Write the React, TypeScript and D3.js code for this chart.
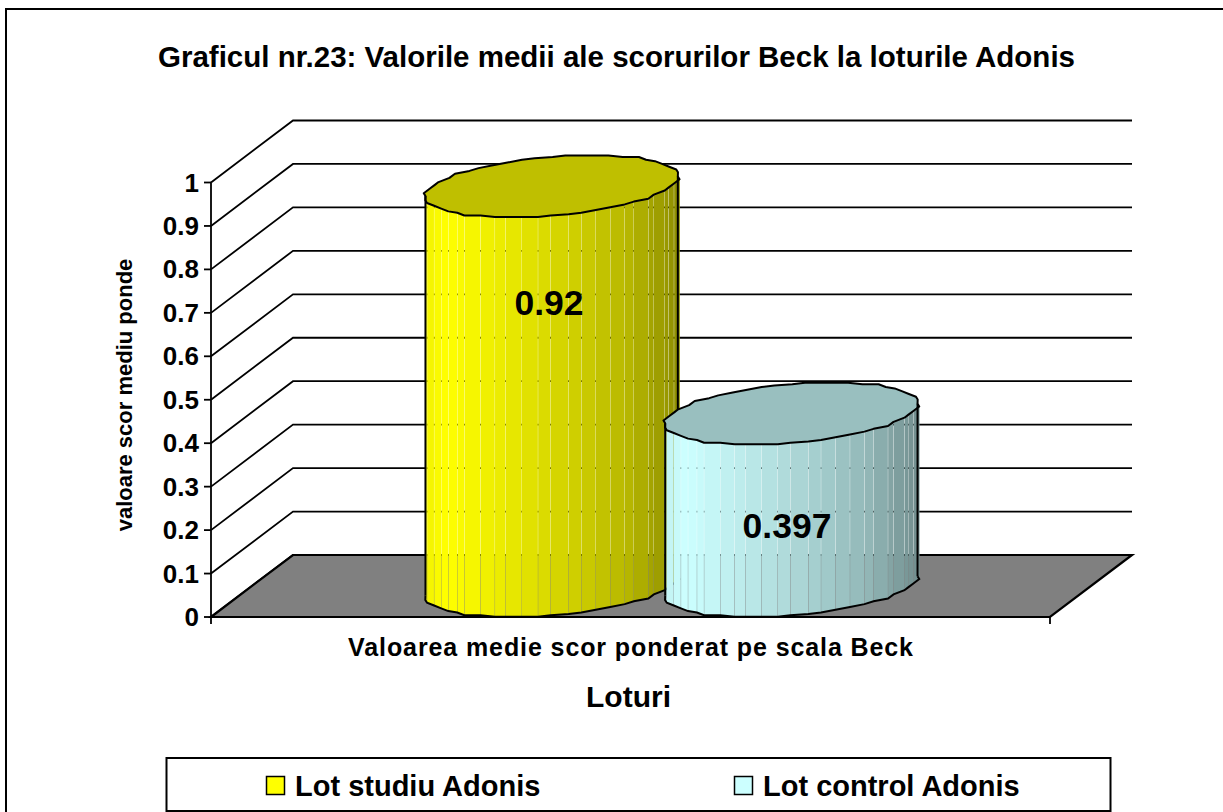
import * as d3 from 'd3';

const W = 1223;
const H = 812;
const FONT = '"Liberation Sans", Arial, sans-serif';

const seriesNames = ['Lot studiu Adonis', 'Lot control Adonis'];
const seriesValues = [0.92, 0.397];
const seriesLabels = ['0.92', '0.397'];
const seriesColors = ['#ffff00', '#ccffff'];
const title = 'Graficul nr.23: Valorile medii ale scorurilor Beck la loturile Adonis';
const yTitle = 'valoare scor mediu ponde';
const categoryLabel = 'Valoarea medie scor ponderat pe scala Beck';
const xTitle = 'Loturi';

// plot box
const x0 = 211;
const x1 = 1050;
const depthX = 82;
const depthY = 62;

const y = d3.scaleLinear().domain([0, 1]).range([617, 182.5]);
const x = d3.scaleBand().domain(seriesNames).range([x0, x1]).paddingInner(0).paddingOuter(0.75);
const yTicks = y.ticks(10);

// light falls from the left, roughly as read off the facets
const shade = d3.scaleLinear().domain([0, 0.08, 0.2, 0.5, 0.8, 1]).range([0.95, 1, 0.96, 0.85, 0.72, 0.56]);
const FACETS = 52;
const SEAM = 0.16; // small gap between facets, the walls show through like in the original

const snap = (v: number) => Math.round(v / 0.045) * 0.045;

function cylinder(name: string, value: number, color: string) {
  const r = x.bandwidth() / 2;
  const cx = x(name)! + r + depthX / 2;
  const b = depthX / 2;
  const c = depthY / 2;
  const a = r;
  const alpha = Math.atan2(b, a);
  const ring = (yFront: number, t: number): [number, number] => [
    cx + a * snap(Math.cos(t)) + b * snap(Math.sin(t)),
    yFront - c - c * snap(Math.sin(t)),
  ];
  const angles = d3.range(FACETS + 1).map((i) => alpha + Math.PI + (i * 2 * Math.PI) / FACETS);
  const front = angles.slice(0, FACETS / 2 + 1);
  const top = y(value);
  const base = y(0);
  const left = ring(top, angles[0])[0];
  const right = ring(top, angles[FACETS / 2])[0];
  const line = d3.line();

  const facets = front.slice(0, -1).map((t, i) => {
    const t2 = front[i + 1];
    const [ax, ay] = ring(top, t);
    const [bx, by] = ring(top, t2);
    const [, ey] = ring(base, t2);
    const [, fy] = ring(base, t);
    const pts: [number, number][] = [
      [ax + SEAM, ay],
      [bx - SEAM, by],
      [bx - SEAM, ey],
      [ax + SEAM, fy],
    ];
    const k = shade(((ax + bx) / 2 - left) / (right - left));
    const col = d3.rgb(color);
    return {
      d: line(pts)! + 'Z',
      fill: d3.rgb(col.r * k, col.g * k, col.b * k).formatHex(),
    };
  });
  const topCol = d3.rgb(color);
  const lid = line(angles.map((t) => ring(top, t)))! + 'Z';
  const outline = line(front.map((t) => ring(base, t)))!;
  const last = front[front.length - 1];
  const sides = line([ring(top, front[0]), ring(base, front[0])])! + line([ring(top, last), ring(base, last)])!;

  return (
    <g key={name}>
      {facets.map((f, i) => (
        <path key={i} d={f.d} fill={f.fill} />
      ))}
      <path d={lid} fill={d3.rgb(topCol.r * 0.75, topCol.g * 0.75, topCol.b * 0.75).formatHex()} stroke="#000" strokeWidth={2} strokeLinejoin="round" />
      <path d={outline} fill="none" stroke="#000" strokeWidth={2} />
      <path d={sides} fill="none" stroke="#000" strokeWidth={2} />
    </g>
  );
}

export default function App() {
  const floor = d3.line()([
    [x0, y(0)],
    [x0 + depthX, y(0) - depthY],
    [x1 + depthX, y(0) - depthY],
    [x1, y(0)],
  ])! + 'Z';

  return (
    <svg width={W} height={H} style={{ position: 'absolute', left: 0, top: 0, display: 'block', background: '#fff' }} fontFamily={FONT} fontWeight="bold" fill="#000">
      <rect x={6} y={9} width={W + 20} height={H + 20} fill="none" stroke="#000" strokeWidth={2} />
      <text x={616.5} y={67} textAnchor="middle" fontSize={29.5}>{title}</text>

      {/* walls */}
      {yTicks.map((t) => (
        <path
          key={t}
          d={d3.line()([[x0, y(t)], [x0 + depthX, y(t) - depthY], [x1 + depthX, y(t) - depthY]])!}
          fill="none"
          stroke="#000"
          strokeWidth={1.8}
        />
      ))}
      <path d={floor} fill="#808080" stroke="#000" strokeWidth={2.2} />

      {seriesNames.map((n, i) => cylinder(n, seriesValues[i], seriesColors[i]))}

      {/* axes */}
      <line x1={x0} x2={x0} y1={y(1)} y2={y(0) + 7} stroke="#000" strokeWidth={1.8} />
      <line x1={x1} x2={x1} y1={y(0)} y2={y(0) + 7} stroke="#000" strokeWidth={1.8} />
      {yTicks.map((t) => (
        <g key={t}>
          <line x1={x0 - 7} x2={x0} y1={y(t)} y2={y(t)} stroke="#000" strokeWidth={1.8} />
          <text x={x0 - 12} y={y(t) + 9} textAnchor="end" fontSize={26}>{d3.format('~g')(t)}</text>
        </g>
      ))}

      {seriesNames.map((n, i) => (
        <text key={n} x={[549, 787][i]} y={[315, 538][i]} textAnchor="middle" fontSize={35.5}>
          {seriesLabels[i]}
        </text>
      ))}

      <text transform="translate(132,395) rotate(-90)" textAnchor="middle" fontSize={22}>{yTitle}</text>
      <text x={631} y={656} textAnchor="middle" fontSize={25} letterSpacing={0.9}>{categoryLabel}</text>
      <text x={628.5} y={707} textAnchor="middle" fontSize={30}>{xTitle}</text>

      {/* legend */}
      <rect x={166.5} y={758} width={944} height={53} fill="#fff" stroke="#000" strokeWidth={2} />
      {seriesNames.map((n, i) => (
        <g key={n}>
          <rect x={[266.5, 734.5][i]} y={776.5} width={18} height={18} fill={seriesColors[i]} stroke="#000" strokeWidth={1.5} />
          <text x={[295, 763][i]} y={796} fontSize={29}>{n}</text>
        </g>
      ))}
    </svg>
  );
}
